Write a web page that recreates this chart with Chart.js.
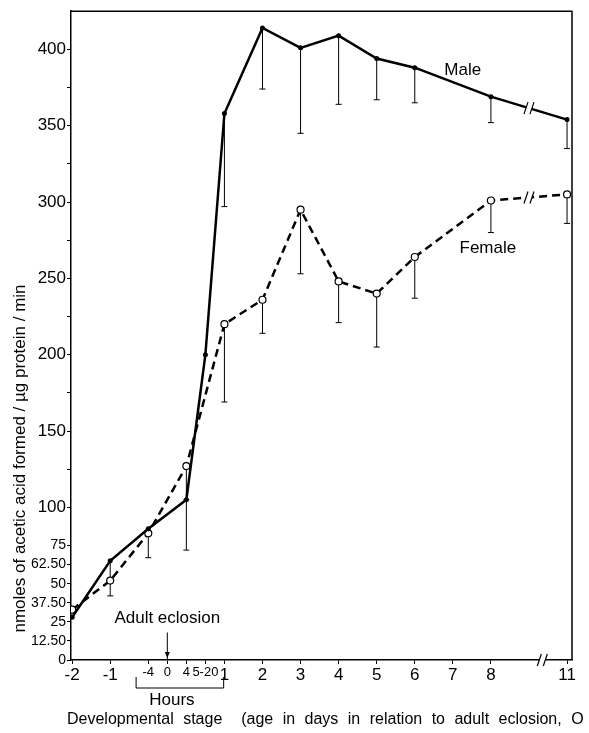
<!DOCTYPE html>
<html>
<head>
<meta charset="utf-8">
<script src="https://cdn.jsdelivr.net/npm/chart.js@4"></script>
<style>
  body { margin: 0; background: #fff; }
</style>
</head>
<body>
<canvas id="c" width="589" height="733"></canvas>
<script>
// x positions on the stretched stage axis (days before, hours, days after)
const stagePos    = [0, 1, 2, 2.5, 3, 3.5, 4, 5, 6, 7, 8, 9, 10, 11, 13];
const stageLabels = ['-2', '-1', '-4', '0', '4', '5-20', '1', '2', '3', '4', '5', '6', '7', '8', '11'];
const hourPos     = [2, 2.5, 3, 3.5];

// y tick values, unlabelled ones are minor ticks
const yTickVals   = [0, 12.5, 25, 37.5, 50, 62.5, 75, 100, 125, 150, 175, 200, 225, 250, 275, 300, 325, 350, 375, 400];
const yTickLabels = ['0', '12.50', '25', '37.50', '50', '62.50', '75', '100', '', '150', '', '200', '', '250', '', '300', '', '350', '', '400'];

// measured points
const pointPos   = [0, 1, 2, 3, 3.5, 4, 5, 6, 7, 8, 9, 11, 13];
const male       = [28, 65, 86, 105, 200, 358, 414, 401, 409, 394, 388, 369, 354];
const maleLow    = [null, 52, null, 72, null, 297, 374, 345, 364, 367, 365, 352, 335];
const female     = [33, 52, 83, 127, null, 220, 236, 295, 248, 240, 264, 301, 305];
const femaleLow  = [null, 42, 67, 105, null, 169, 214, 253, 221, 205, 237, 280, 286];

const FONT = '"Liberation Sans", Arial, sans-serif';

function toXY(vals) {
    return pointPos.map((p, i) => ({x: p, y: vals[i]}));
}

// draws the one sided error bars, frame, breaks and labels
const extras = {
    id: 'extras',
    beforeDatasetsDraw(chart) {
        const c = chart.ctx, xs = chart.scales.x, ys = chart.scales.y;
        c.save();
        c.strokeStyle = '#000';
        c.lineWidth = 1;
        [[male, maleLow], [female, femaleLow]].forEach(([vals, lows]) => {
            pointPos.forEach((p, i) => {
                if (lows[i] == null || vals[i] == null) return;
                const px = xs.getPixelForValue(p);
                const y1 = ys.getPixelForValue(vals[i]);
                const y2 = ys.getPixelForValue(lows[i]);
                c.beginPath();
                c.moveTo(px, y1); c.lineTo(px, y2);
                c.moveTo(px - 3, y2); c.lineTo(px + 3, y2);
                c.stroke();
            });
        });
        c.restore();
    },
    afterDraw(chart) {
        const c = chart.ctx, xs = chart.scales.x, ys = chart.scales.y, a = chart.chartArea;
        c.save();
        c.strokeStyle = '#000';
        c.fillStyle = '#000';
        // frame top and right
        c.lineWidth = 1.5;
        c.beginPath();
        c.moveTo(a.left, a.top); c.lineTo(a.right, a.top); c.lineTo(a.right, a.bottom);
        c.stroke();

        // break marks
        function brk(px, py) {
            c.save();
            c.fillStyle = '#fff';
            c.fillRect(px - 3, py - 5, 6, 10);
            c.lineWidth = 1.2;
            c.beginPath();
            c.moveTo(px - 5, py + 6); c.lineTo(px - 1, py - 6);
            c.moveTo(px + 1, py + 6); c.lineTo(px + 5, py - 6);
            c.stroke();
            c.restore();
        }
        brk(xs.getPixelForValue(12), ys.getPixelForValue((male[11] + male[12]) / 2));
        brk(xs.getPixelForValue(12), ys.getPixelForValue((female[11] + female[12]) / 2));
        brk(xs.getPixelForValue(12.35), ys.getPixelForValue(0));

        // Male / Female labels
        c.font = '17px ' + FONT;
        c.textAlign = 'center';
        c.textBaseline = 'middle';
        c.fillText('Male', xs.getPixelForValue(10.26), ys.getPixelForValue(386));
        c.fillText('Female', xs.getPixelForValue(10.92), ys.getPixelForValue(270));
        c.fillText('Adult eclosion', xs.getPixelForValue(2.5), ys.getPixelForValue(27.5));

        // eclosion arrow
        const ax = xs.getPixelForValue(2.5);
        const ay1 = ys.getPixelForValue(18), ay2 = ys.getPixelForValue(0);
        c.lineWidth = 1;
        c.beginPath();
        c.moveTo(ax, ay1); c.lineTo(ax, ay2);
        c.stroke();
        c.beginPath();
        c.moveTo(ax - 2.5, ay2 - 8); c.lineTo(ax + 2.5, ay2 - 8); c.lineTo(ax, ay2 - 2);
        c.closePath();
        c.fill();

        // Hours bracket
        const bx1 = xs.getPixelForValue(1.68), bx2 = xs.getPixelForValue(3.98);
        const by = a.bottom + 28;
        c.beginPath();
        c.moveTo(bx1, by - 11); c.lineTo(bx1, by); c.lineTo(bx2, by); c.lineTo(bx2, by - 11);
        c.stroke();
        c.fillText('Hours', xs.getPixelForValue(2.62), by + 12);

        // axis titles
        c.font = '16px ' + FONT;
        c.textAlign = 'left';
        c.wordSpacing = '5px';
        c.fillText('Developmental stage  (age in days in relation to adult eclosion, O', a.left - 4, a.bottom + 60);
        c.wordSpacing = '0px';

        c.font = '17px ' + FONT;
        c.textAlign = 'center';
        c.translate(a.left - 51, ys.getPixelForValue(132));
        c.rotate(-Math.PI / 2);
        c.fillText('nmoles of acetic acid formed / µg protein / min', 0, 0);
        c.restore();
    }
};

new Chart(document.getElementById('c'), {
    type: 'line',
    data: {
        datasets: [{
            label: 'Male',
            data: toXY(male),
            borderColor: '#000',
            backgroundColor: '#000',
            borderWidth: 2.5,
            pointRadius: 2.5,
            pointBorderWidth: 0,
            tension: 0,
        },{
            label: 'Female',
            data: toXY(female),
            borderColor: '#000',
            backgroundColor: '#fff',
            borderWidth: 2.5,
            borderDash: [8, 5],
            pointRadius: 3.5,
            pointBorderWidth: 1.2,
            spanGaps: true,
            tension: 0,
        }]
    },
    options: {
        responsive: false,
        animation: false,
        layout: {
            padding: {left: 0, right: 17, top: 11, bottom: 0}
        },
        plugins: {
            legend: {display: false},
            tooltip: {enabled: false}
        },
        scales: {
            x: {
                type: 'linear',
                min: -0.03,
                max: 13.13,
                afterBuildTicks: s => { s.ticks = stagePos.map(v => ({value: v})); },
                afterFit: s => { s.height = 73; },
                grid: {drawOnChartArea: false, color: '#000', tickLength: 4},
                border: {color: '#000', width: 1.5},
                ticks: {
                    color: '#000',
                    padding: 1,
                    maxRotation: 0,
                    autoSkip: false,
                    font: ctx => ({family: FONT, size: (ctx.tick && hourPos.includes(ctx.tick.value)) ? 13 : 17}),
                    callback: v => stageLabels[stagePos.indexOf(v)]
                }
            },
            y: {
                min: 0,
                max: 425,
                afterBuildTicks: s => { s.ticks = yTickVals.map(v => ({value: v})); },
                afterFit: s => { s.width = 71; },
                grid: {drawOnChartArea: false, color: '#000', tickLength: 4},
                border: {color: '#000', width: 1.5},
                ticks: {
                    color: '#000',
                    padding: 1,
                    autoSkip: false,
                    font: ctx => ({family: FONT, size: (ctx.tick && ctx.tick.value < 100) ? 14 : 17}),
                    callback: v => yTickLabels[yTickVals.indexOf(v)]
                }
            }
        }
    },
    plugins: [extras]
});
</script>
</body>
</html>
